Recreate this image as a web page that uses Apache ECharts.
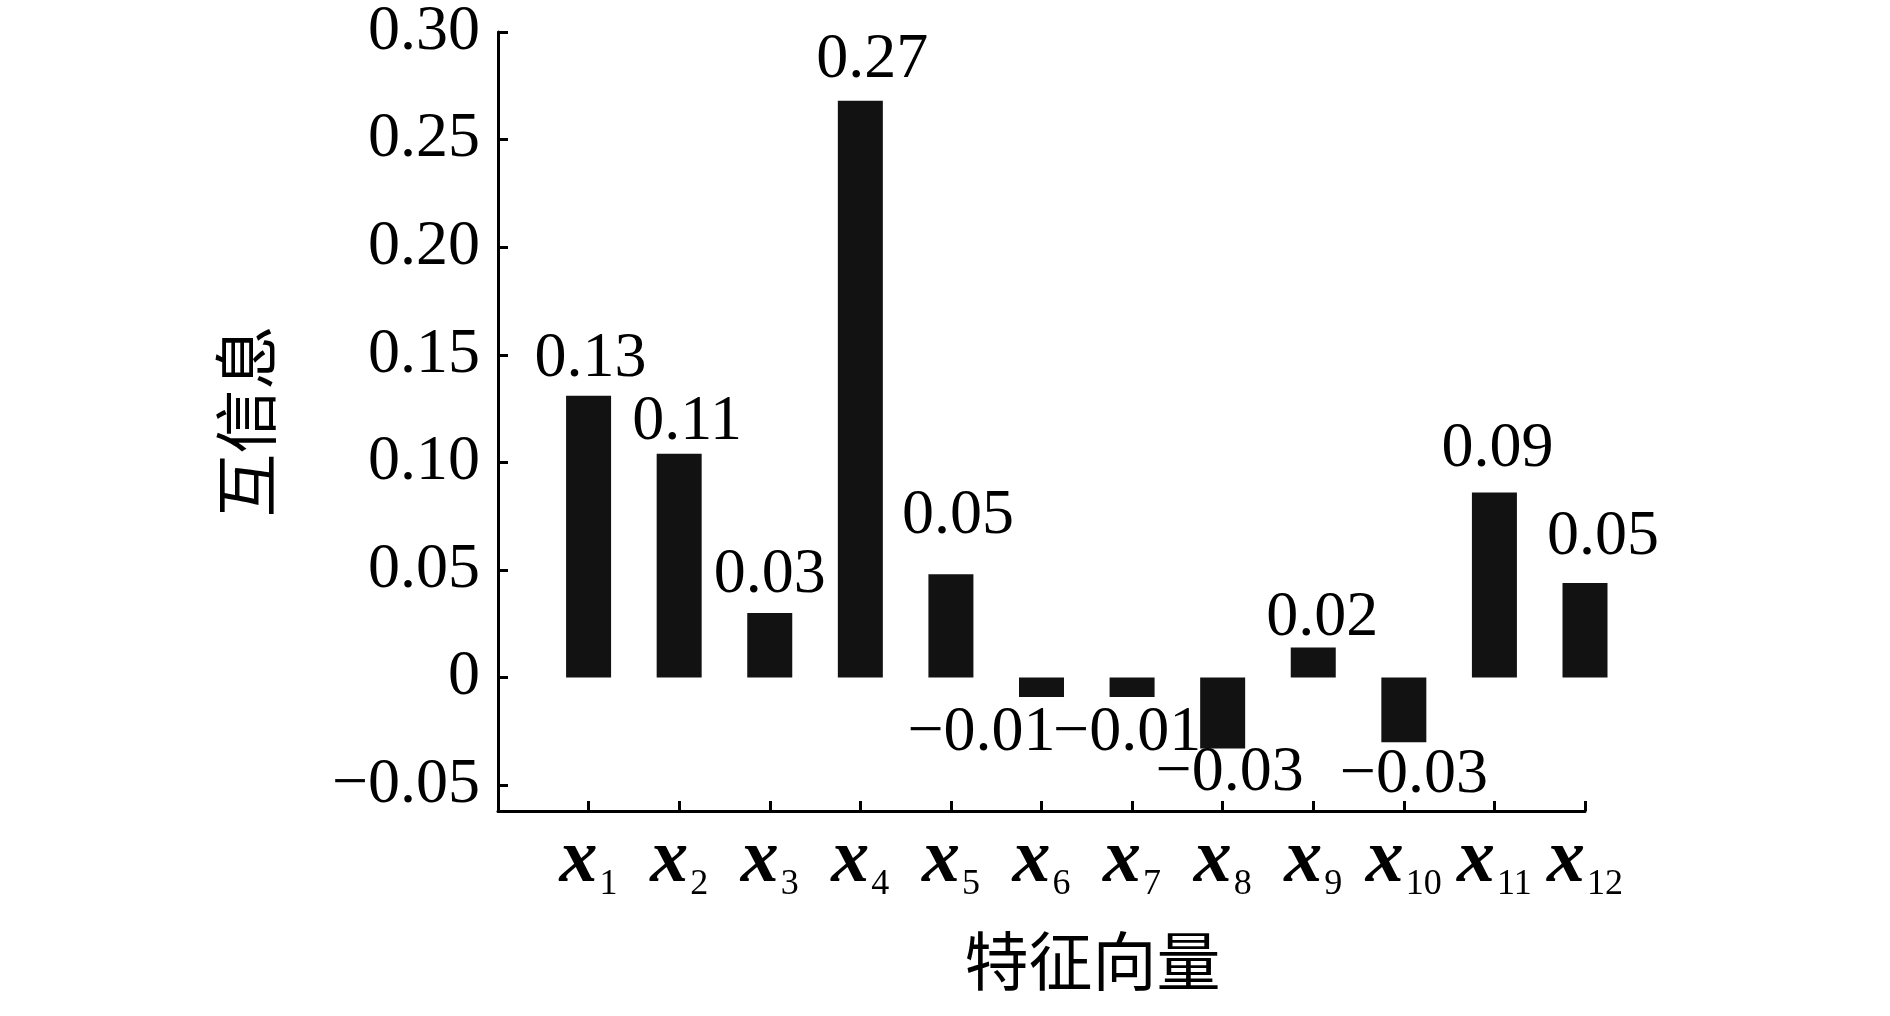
<!DOCTYPE html>
<html>
<head>
<meta charset="utf-8">
<script src="https://cdn.jsdelivr.net/npm/echarts@6/dist/echarts.min.js"></script>
<style>
html,body{margin:0;padding:0;background:#fff;}
#chart{width:1890px;height:1016px;}
</style>
</head>
<body>
<div id="chart"></div>
<script>
// ---- data ----
const categories = ['1','2','3','4','5','6','7','8','9','10','11','12'];
const values = [0.131, 0.104, 0.030, 0.268, 0.048, -0.009, -0.009, -0.033, 0.014, -0.030, 0.086, 0.044];
const valueLabels = ['0.13','0.11','0.03','0.27','0.05','\u22120.01','\u22120.01','\u22120.03','0.02','\u22120.03','0.09','0.05'];
const yTicks = [-0.05, 0, 0.05, 0.10, 0.15, 0.20, 0.25, 0.30];
const xName = '特征向量';
const yName = '互信息';

// ---- layout helpers (label nudges in px: [dx, dy]) ----
const nudge = [[2,0],[8,4],[0,-2],[12,-5],[7,-22],[-60,0],[-5,0],[7,-11],[9,7],[10,-3],[3,-7],[18,-10]];

const serif = '"Liberation Serif", "Times New Roman", serif';
const cjk = '"Noto Sans CJK SC", sans-serif';

const chart = echarts.init(document.getElementById('chart'));
const axisCats = [''].concat(categories);
const seriesData = [null].concat(values.map((v, i) => ({
  value: v,
  label: {
    show: true,
    position: v >= 0 ? 'top' : 'bottom',
    formatter: valueLabels[i],
    offset: nudge[i]
  }
})));

function fmtY(v) {
  if (Math.abs(v) < 1e-9) return '0';
  return (v < 0 ? '\u2212' : '') + Math.abs(v).toFixed(2);
}

chart.setOption({
  backgroundColor: '#fff',
  animation: false,
  grid: { left: 498, right: 305, top: 26.5, bottom: 205, containLabel: false },
  xAxis: {
    type: 'category',
    data: axisCats,
    boundaryGap: false,
    axisLine: { onZero: false, lineStyle: { color: '#000', width: 3 } },
    axisTick: { inside: true, length: 10, lineStyle: { color: '#000', width: 3 } },
    axisLabel: {
      interval: 0,
      margin: 12,
      formatter: (v) => v === '' ? '' : '{x|x}{s|' + v + '}',
      rich: {
        x: { fontFamily: serif, fontStyle: 'italic', fontWeight: 'bold', fontSize: 76, color: '#000', lineHeight: 60, verticalAlign: 'top' },
        s: { fontFamily: serif, fontSize: 36, color: '#000', padding: [44, 0, 0, 2], verticalAlign: 'top' }
      }
    },
    name: xName,
    nameLocation: 'middle',
    nameGap: 118,
    nameTextStyle: { fontFamily: cjk, fontSize: 64, color: '#000', padding: [0, 0, 0, 102] },
    splitLine: { show: false }
  },
  yAxis: {
    type: 'value',
    min: -0.062,
    max: 0.30,
    axisLine: { show: true, lineStyle: { color: '#000', width: 3 } },
    axisTick: { show: true, inside: true, length: 10, customValues: yTicks, lineStyle: { color: '#000', width: 3 } },
    axisLabel: {
      customValues: yTicks,
      formatter: fmtY,
      margin: 18,
      fontFamily: serif,
      fontSize: 64,
      color: '#000'
    },
    splitLine: { show: false },
    name: yName,
    nameLocation: 'middle',
    nameRotate: 90,
    nameGap: 220,
    nameTextStyle: { fontFamily: cjk, fontSize: 64, color: '#000', padding: [0, 0, 0, 0] }
  },
  series: [{
    type: 'bar',
    data: seriesData,
    barWidth: 45,
    itemStyle: { color: '#121212' },
    label: {
      show: true,
      distance: 4,
      fontFamily: serif,
      fontSize: 64,
      color: '#000'
    }
  }]
});
</script>
</body>
</html>
